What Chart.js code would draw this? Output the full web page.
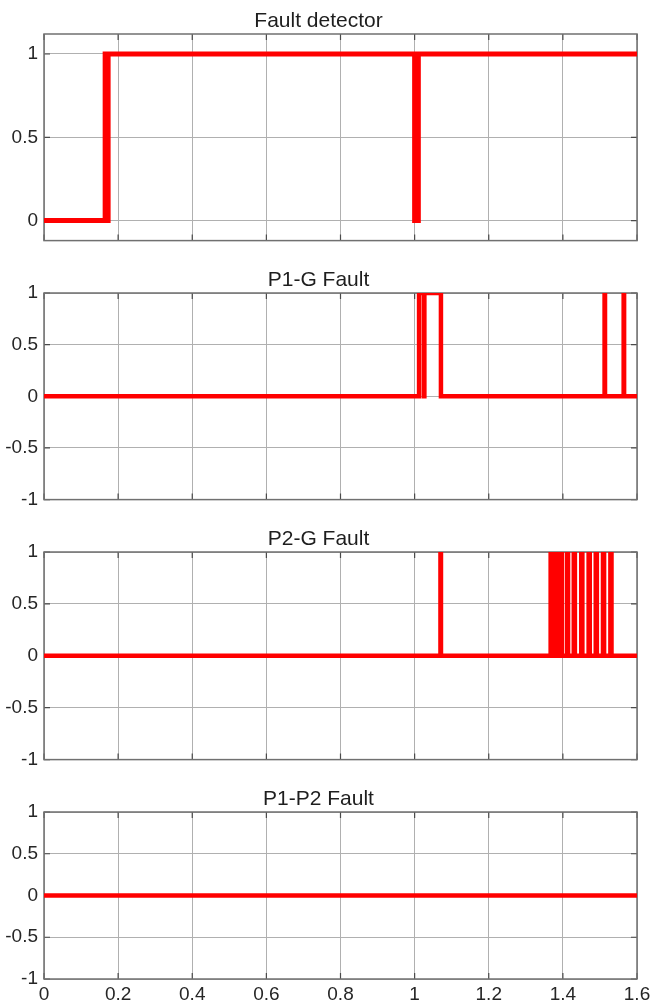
<!DOCTYPE html>
<html>
<head>
<meta charset="utf-8">
<script src="https://cdn.jsdelivr.net/npm/chart.js@4.4.1/dist/chart.umd.min.js"></script>
<style>
  body { margin:0; background:#fff; width:651px; height:1002px; overflow:hidden; position:relative; }
  canvas { position:absolute; left:0; }
</style>
</head>
<body>
<canvas id="c1" width="651" height="259" style="top:-1px"></canvas>
<canvas id="c2" width="651" height="259" style="top:258px"></canvas>
<canvas id="c3" width="651" height="260" style="top:517px"></canvas>
<canvas id="c4" width="651" height="233" style="top:777px"></canvas>
<script>
// TICKS
const xTicks  = [0, 0.2, 0.4, 0.6, 0.8, 1, 1.2, 1.4, 1.6];
const xLabels = ['0', '0.2', '0.4', '0.6', '0.8', '1', '1.2', '1.4', '1.6'];
const yTicksFd  = [0, 0.5, 1];
const yLabelsFd = ['0', '0.5', '1'];
const yTicks  = [-1, -0.5, 0, 0.5, 1];
const yLabels = ['-1', '-0.5', '0', '0.5', '1'];

// SIGNALS (switch times, value held from that time)
const fdTime = [0, 0.165, 0.169, 0.173, 1.000, 1.010, 1.6];
const fdVal  = [0, 1, 0, 1, 0, 1, 1];

const p1gTime = [0, 1.012, 1.0253, 1.0263, 1.071, 1.5125, 1.5137, 1.5640, 1.5652, 1.6];
const p1gVal  = [0, 1, 0, 1, 0, 1, 0, 1, 0, 0];

const p2gTime = [0, 1.0697, 1.0711,
                 1.3670, 1.3700, 1.3791, 1.3821, 1.3940, 1.3970, 1.4110, 1.4140,
                 1.4294, 1.4324, 1.4496, 1.4526, 1.4695, 1.4725, 1.4887, 1.4917,
                 1.5082, 1.5112, 1.5282, 1.5312, 1.6];
const p2gVal  = [0, 1, 0,
                 1, 0, 1, 0, 1, 0, 1, 0,
                 1, 0, 1, 0, 1, 0, 1, 0,
                 1, 0, 1, 0, 0];

const p1p2Time = [0, 1.6];
const p1p2Val  = [0, 0];

const FONT = "'Liberation Sans', Arial, Helvetica, sans-serif";

// moldura + ticks para dentro (estilo matlab)
const frame = {
    id:'frame',
    beforeDatasetsDraw(chart){
        const {ctx, chartArea:a, scales:{x, y}} = chart;
        ctx.save();
        ctx.strokeStyle = '#4a4a4a';
        ctx.lineWidth = 1.2;
        ctx.beginPath();
        x.ticks.forEach(t=>{
            const px = x.getPixelForValue(t.value);
            ctx.moveTo(px, a.bottom); ctx.lineTo(px, a.bottom-6);
            ctx.moveTo(px, a.top); ctx.lineTo(px, a.top+6);
        });
        y.ticks.forEach(t=>{
            const py = y.getPixelForValue(t.value);
            ctx.moveTo(a.left, py); ctx.lineTo(a.left+6, py);
            ctx.moveTo(a.right, py); ctx.lineTo(a.right-6, py);
        });
        ctx.stroke();
        ctx.strokeStyle = '#707070';
        ctx.lineWidth = 1.5;
        ctx.strokeRect(a.left, a.top, a.width, a.height);
        ctx.restore();
    }
};

function makeChart(id, title, times, vals, yMin, yMax, yT, yL, showX, lw){
    const pts = times.map((t,i)=>({x:t, y:vals[i]}));
    return new Chart(document.getElementById(id), {
        type:'line',
        data:{ datasets:[{
            data: pts,
            borderColor:'#ff0000',
            borderWidth: lw,
            stepped: true,
            pointRadius: 0,
            fill: false,
            borderJoinStyle:'miter',
            borderCapStyle:'butt'
        }]},
        options:{
            responsive:false,
            devicePixelRatio:1,
            animation:false,
            layout:{ padding:{ left:0, right:14, top:0, bottom: showX ? 0 : 14 } },
            plugins:{
                legend:{display:false},
                tooltip:{enabled:false},
                title:{
                    display:true, text:title, color:'#1e1e1e',
                    font:{family:FONT, size:21, weight:'normal'},
                    padding:{top:9.8, bottom:0}
                }
            },
            scales:{
                x:{
                    type:'linear', min:0, max:1.6,
                    afterBuildTicks: s => { s.ticks = xTicks.map(v=>({value:v})); },
                    afterFit: s => { s.paddingLeft = 0; s.paddingRight = 0; },
                    grid:{color:'#b0b0b0', lineWidth:1, drawTicks:false},
                    border:{display:false},
                    ticks:{
                        display: showX, color:'#262626', padding:6,
                        font:{family:FONT, size:19, lineHeight:1},
                        maxRotation:0, autoSkip:false,
                        callback:(v,i)=>xLabels[i]
                    }
                },
                y:{
                    min:yMin, max:yMax,
                    afterBuildTicks: s => { s.ticks = yT.map(v=>({value:v})); },
                    afterFit: s => { s.width = 44; },
                    grid:{color:'#b0b0b0', lineWidth:1, drawTicks:false},
                    border:{display:false},
                    ticks:{
                        color:'#262626', padding:6,
                        font:{family:FONT, size:19},
                        autoSkip:false,
                        callback:(v,i)=>yL[i]
                    }
                }
            }
        },
        plugins:[frame]
    });
}

makeChart('c1', 'Fault detector', fdTime, fdVal, -0.12, 1.12, yTicksFd, yLabelsFd, false, 5);
makeChart('c2', 'P1-G Fault', p1gTime, p1gVal, -1, 1, yTicks, yLabels, false, 4.5);
makeChart('c3', 'P2-G Fault', p2gTime, p2gVal, -1, 1, yTicks, yLabels, false, 4.5);
makeChart('c4', 'P1-P2 Fault', p1p2Time, p1p2Val, -1, 1, yTicks, yLabels, true, 4.5);
</script>
</body>
</html>
